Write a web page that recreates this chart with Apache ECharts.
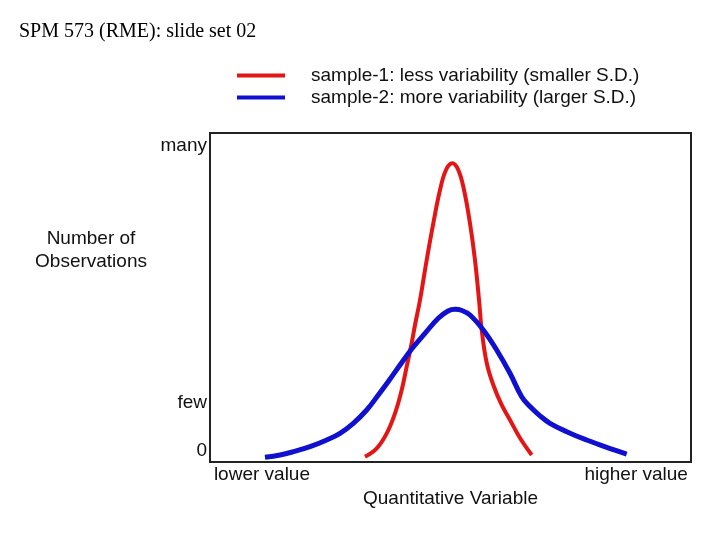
<!DOCTYPE html>
<html><head><meta charset="utf-8">
<script src="https://cdn.jsdelivr.net/npm/echarts@6/dist/echarts.min.js"></script>
<style>html,body{margin:0;padding:0;background:#fff}#c{width:720px;height:540px}</style>
</head><body><div id="c"></div>
<script>
var titleText = 'SPM 573 (RME): slide set 02';
var seriesNames = ['sample-1: less variability (smaller S.D.)', 'sample-2: more variability (larger S.D.)'];
var redX = [32.22,34.66,36.74,38.46,39.85,40.89,41.93,42.62,43.66,45.05,46.42,47.82,49.06,50.37,51.62,52.81,54.05,55.09,55.93,56.49,57.53,58.90,60.64,62.37,64.45,66.88];
var redY = [1.61,4.16,8.72,14.80,21.88,28.97,36.17,41.64,49.24,61.40,72.55,82.67,88.75,90.79,88.75,82.67,72.55,61.40,49.24,40.12,30.09,23.40,17.33,12.77,7.29,2.13];
var blueX = [11.43,14.55,17.32,20.79,24.26,27.03,29.79,32.58,34.99,37.07,39.50,41.93,44.70,47.46,49.48,50.94,52.39,54.05,56.82,59.60,62.37,64.80,66.53,68.61,70.69,74.16,78.32,82.47,86.63];
var blueY = [1.43,2.13,3.13,4.65,6.69,8.72,11.76,15.81,20.36,24.47,29.48,34.35,39.12,43.68,45.90,46.41,46.05,44.68,40.12,34.04,26.96,19.85,16.84,14.04,11.76,9.21,6.69,4.47,2.43];
var yTickValues = [3.3, 18, 96];
var yTickLabels = ['0', 'few', 'many'];
var xTickValues = [10.8, 88.6];
var xTickLabels = ['lower value', 'higher value'];
var xName = 'Quantitative Variable';
var yName = 'Number of\nObservations';

function zip(a, b) { return a.map(function (v, i) { return [v, b[i]]; }); }
var font = 'Liberation Sans, Arial, sans-serif';
var chart = echarts.init(document.getElementById('c'));
chart.setOption({
  animation: false,
  backgroundColor: '#fff',
  title: { text: titleText, left: 14, top: 17, textStyle: { fontFamily: 'Liberation Serif, Times New Roman, serif', fontSize: 20, fontWeight: 'normal', color: '#000' } },
  legend: {
    orient: 'vertical', left: 232, top: 61, itemWidth: 48, itemHeight: 4, itemGap: 3, icon: 'rect',
    textStyle: { fontFamily: font, fontSize: 19, color: '#111', padding: [0, 0, 0, 21] },
    data: seriesNames
  },
  grid: { left: 210, right: 29, top: 133, bottom: 78, show: true, borderColor: '#222', borderWidth: 2, backgroundColor: 'transparent' },
  xAxis: {
    type: 'value', min: 0, max: 100,
    name: xName, nameLocation: 'middle', nameGap: 26,
    nameTextStyle: { fontFamily: font, fontSize: 19, color: '#111' },
    axisLine: { show: false }, axisTick: { show: false }, splitLine: { show: false },
    axisLabel: { customValues: xTickValues, margin: 3, fontFamily: font, fontSize: 19, color: '#111',
      formatter: function (v) { var i = xTickValues.indexOf(v); return i >= 0 ? xTickLabels[i] : ''; } }
  },
  yAxis: {
    type: 'value', min: 0, max: 100,
    axisLine: { show: false }, axisTick: { show: false }, splitLine: { show: false },
    axisLabel: { customValues: yTickValues, margin: 3, fontFamily: font, fontSize: 19, color: '#111',
      formatter: function (v) { var i = yTickValues.indexOf(v); return i >= 0 ? yTickLabels[i] : ''; } }
  },
  graphic: [{
    type: 'text', x: 91, y: 227,
    style: { text: yName, fontFamily: font, fontSize: 19, fill: '#111', align: 'center', lineHeight: 23 }
  }],
  series: [
    { name: seriesNames[0], type: 'line', smooth: 0.4, showSymbol: false, data: zip(redX, redY),
      itemStyle: { color: '#e31515' }, lineStyle: { color: '#e31515', width: 4 } },
    { name: seriesNames[1], type: 'line', smooth: 0.4, showSymbol: false, data: zip(blueX, blueY),
      itemStyle: { color: '#1010d0' }, lineStyle: { color: '#1010d0', width: 5 } }
  ]
});
</script></body></html>
